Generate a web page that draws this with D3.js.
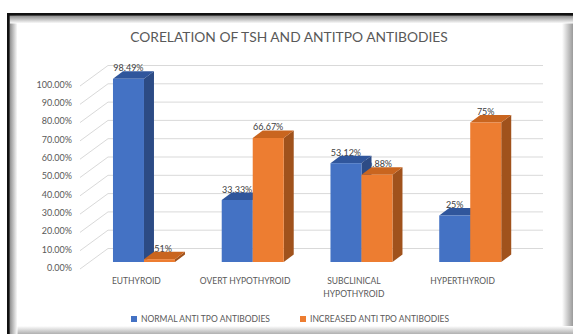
<!DOCTYPE html>
<html><head><meta charset="utf-8">
<script src="https://cdn.jsdelivr.net/npm/d3@7"></script>
<style>
html,body{margin:0;padding:0;background:#fff;}
svg{display:block;font-family:Lato,"Open Sans",sans-serif;}
</style></head>
<body>
<svg id="chart" width="573" height="334"></svg>
<script>
const titleText = "CORELATION OF TSH AND ANTITPO ANTIBODIES";
const categories = ["EUTHYROID", "OVERT HYPOTHYROID", "SUBCLINICAL HYPOTHYROID", "HYPERTHYROID"];
const categoryLines = [["EUTHYROID"], ["OVERT HYPOTHYROID"], ["SUBCLINICAL", "HYPOTHYROID"], ["HYPERTHYROID"]];
const seriesNames = ["NORMAL ANTI TPO ANTIBODIES", "INCREASED ANTI TPO ANTIBODIES"];
const normalValues = [98.49, 33.33, 53.12, 25];
const increasedValues = [1.51, 66.67, 46.88, 75];
const normalLabels = ["98.49%", "33.33%", "53.12%", "25%"];
const increasedLabels = ["1.51%", "66.67%", "46.88%", "75%"];
const yTickValues = [0, 10, 20, 30, 40, 50, 60, 70, 80, 90, 100];

const svg = d3.select("#chart");
const W = 573, H = 334;

// ---- frame ----
const defs = svg.append("defs");
function grad(id, x1, y1, x2, y2, c1, c2) {
  const g = defs.append("linearGradient").attr("id", id)
    .attr("x1", x1).attr("y1", y1).attr("x2", x2).attr("y2", y2);
  g.append("stop").attr("offset", "0%").attr("stop-color", c1);
  g.append("stop").attr("offset", "100%").attr("stop-color", c2);
}
grad("gl", 0, 0, 1, 0, "#8a8a8a", "#ffffff");
grad("gt", 0, 0, 0, 1, "#8a8a8a", "#ffffff");
grad("gr", 0, 0, 1, 0, "#ffffff", "#9a9a9a");
grad("gb", 0, 0, 0, 1, "#ffffff", "#b0b0b0");
svg.append("rect").attr("x", 0).attr("y", 0).attr("width", W).attr("height", H).attr("fill", "#fff");
svg.append("rect").attr("x", 562).attr("y", 15).attr("width", 11).attr("height", H - 15).attr("fill", "url(#gr)");
svg.append("rect").attr("x", 9).attr("y", 326).attr("width", W - 9).attr("height", 8).attr("fill", "url(#gb)");
svg.append("rect").attr("x", 9.5).attr("y", 15.5).attr("width", 8).attr("height", H - 15.5).attr("fill", "url(#gl)");
svg.append("rect").attr("x", 9.5).attr("y", 15.5).attr("width", W - 9.5).attr("height", 8).attr("fill", "url(#gt)");
svg.append("rect").attr("x", 7).attr("y", 13).attr("width", W - 7).attr("height", 2.7).attr("fill", "#111");
svg.append("rect").attr("x", 7).attr("y", 13).attr("width", 2.7).attr("height", H - 13).attr("fill", "#111");

// ---- scales ----
const xBand = d3.scaleBand().domain(categories).range([82, 517]).paddingInner(0).paddingOuter(0);
const xSeries = d3.scaleBand().domain(seriesNames).range([0, 62]);
const yFront = d3.scaleLinear().domain([0, 100]).range([267.5, 84.5]);
const yBar = d3.scaleLinear().domain([0, 100]).range([262, 76]);
const wallDx = 28, wallDy = 20.5;
const barDx = 10, barDy = 7.5;
const groupShift = 7.6;

// ---- walls / gridlines ----
const grid = svg.append("g");
grid.selectAll("line.diag").data(yTickValues).join("line")
  .attr("x1", 80).attr("y1", d => yFront(d) + 1.5)
  .attr("x2", 80 + wallDx).attr("y2", d => yFront(d) + 1.5 - wallDy)
  .attr("stroke", "#d9d9d9").attr("stroke-width", 1);
grid.selectAll("line.back").data(yTickValues).join("line")
  .attr("x1", 80 + wallDx).attr("y1", d => yFront(d) + 1.5 - wallDy)
  .attr("x2", 543).attr("y2", d => yFront(d) + 1.5 - wallDy)
  .attr("stroke", "#d9d9d9").attr("stroke-width", 1);

// ---- y axis ----
const yAxis = d3.axisLeft(yFront).tickValues(yTickValues)
  .tickFormat(d => d.toFixed(2) + "%").tickSize(0).tickPadding(0);
const yg = svg.append("g").attr("transform", "translate(72,0)").call(yAxis);
yg.select(".domain").remove();
yg.selectAll("text").attr("fill", "#595959").style("font-size", "9px")
  .style("font-family", "Lato, sans-serif");

// ---- x axis ----
const xAxis = d3.axisBottom(xBand).tickSize(0).tickPadding(0);
const xg = svg.append("g").attr("transform", "translate(0,276)").call(xAxis);
xg.select(".domain").remove();
xg.selectAll(".tick text").each(function (d, i) {
  const t = d3.select(this).text(null).attr("fill", "#595959")
    .style("font-size", "8.5px").style("font-family", "Lato, sans-serif").attr("dy", null).attr("y", 0);
  categoryLines[i].forEach((ln, j) => {
    t.append("tspan").attr("x", 0).attr("y", 8 + j * 12.5).text(ln);
  });
});

// ---- data ----
const series = [
  { name: seriesNames[0], values: normalValues, labels: normalLabels, front: "#4472c4", top: "#30569c", side: "#2c4b85" },
  { name: seriesNames[1], values: increasedValues, labels: increasedLabels, front: "#ed7d31", top: "#c9651f", side: "#a0521c" }
];
const bars = [];
categories.forEach((c, i) => {
  series.forEach(s => {
    bars.push({ cat: c, s: s, v: s.values[i], label: s.labels[i] });
  });
});
function bx(d) { return xBand(d.cat) + xBand.bandwidth() / 2 + groupShift - 31 + xSeries(d.s.name); }
const bw = xSeries.bandwidth();

// labels (drawn beneath bars, as in the reference where bars partly hide them)
svg.append("g").selectAll("text").data(bars).join("text")
  .attr("x", d => bx(d) + bw / 2)
  .attr("y", d => yBar(d.v) - 7.5)
  .attr("text-anchor", "middle")
  .attr("fill", "#404040").style("font-size", "9px")
  .text(d => d.label);

const bg = svg.append("g");
bars.forEach(d => {
  const x = bx(d), yt = yBar(d.v), y0 = yBar(0);
  const g = bg.append("g");
  g.append("polygon").attr("points", [[x + bw, yt], [x + bw + barDx, yt - barDy], [x + bw + barDx, y0 - barDy], [x + bw, y0]].join(" "))
    .attr("fill", d.s.side);
  g.append("polygon").attr("points", [[x, yt], [x + bw, yt], [x + bw + barDx, yt - barDy], [x + barDx, yt - barDy]].join(" "))
    .attr("fill", d.s.top);
  g.append("rect").attr("x", x).attr("y", yt).attr("width", bw).attr("height", y0 - yt).attr("fill", d.s.front);
});

// ---- title ----
svg.append("text").attr("x", 289).attr("y", 42).attr("text-anchor", "middle")
  .attr("fill", "#595959").style("font-size", "13.8px").text(titleText);

// ---- legend ----
const legendX = [131, 300];
const lg = svg.append("g").selectAll("g").data(series).join("g")
  .attr("transform", (d, i) => `translate(${legendX[i]},316)`);
lg.append("rect").attr("width", 6).attr("height", 6).attr("fill", d => d.front);
lg.append("text").attr("x", 10).attr("y", 6).attr("fill", "#595959")
  .style("font-size", "8.5px").text(d => d.name);
</script>
</body></html>
